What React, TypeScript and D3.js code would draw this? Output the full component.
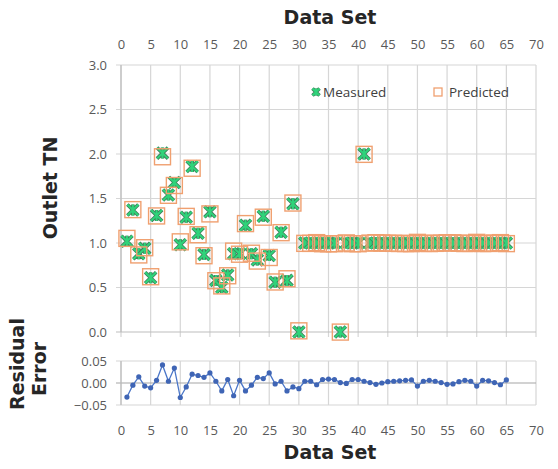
import React, { useEffect, useRef } from "react";
import * as d3 from "d3";

// data set numbers 1..65
const dataSet = d3.range(1, 66);

const measured = [
  1.02, 1.37, 0.88, 0.94, 0.61, 1.31, 2.01, 1.54, 1.68, 0.98,
  1.29, 1.86, 1.11, 0.87, 1.35, 0.58, 0.5, 0.64, 0.88, 0.88,
  1.2, 0.88, 0.81, 1.3, 0.86, 0.56, 1.12, 0.58, 1.44, 0.0,
  1.0, 1.0, 1.0, 1.0, 1.0, 1.0, 0.0, 1.0, 1.0, 1.0,
  2.0, 1.0, 1.0, 1.0, 1.0, 1.0, 1.0, 1.0, 1.0, 1.0,
  1.0, 1.0, 1.0, 1.0, 1.0, 1.0, 1.0, 1.0, 1.0, 1.0,
  1.0, 1.0, 1.0, 1.0, 1.0
];

const predicted = [
  1.052, 1.375, 0.866, 0.947, 0.621, 1.304, 1.969, 1.536, 1.646, 1.013,
  1.299, 1.84, 1.093, 0.857, 1.327, 0.576, 0.518, 0.632, 0.909, 0.874,
  1.218, 0.885, 0.797, 1.29, 0.837, 0.562, 1.116, 0.598, 1.449, 0.013,
  0.996, 0.996, 1.004, 0.992, 0.991, 0.992, -0.001, 1.001, 0.992, 0.992,
  1.996, 0.999, 1.003, 1.0, 0.997, 0.996, 0.995, 0.994, 0.993, 1.007,
  0.996, 0.994, 0.996, 0.999, 1.003, 1.002, 0.997, 0.994, 0.996, 1.007,
  0.994, 0.995, 0.999, 1.004, 0.993
];

const residual = [
  -0.032, -0.005, 0.014, -0.007, -0.011, 0.006, 0.041, 0.004, 0.034, -0.033,
  -0.009, 0.02, 0.017, 0.013, 0.023, 0.004, -0.018, 0.008, -0.029, 0.006,
  -0.018, -0.005, 0.013, 0.01, 0.023, -0.002, 0.004, -0.018, -0.009, -0.013,
  0.004, 0.004, -0.004, 0.008, 0.009, 0.008, 0.001, -0.001, 0.008, 0.008,
  0.004, 0.001, -0.003, 0.0, 0.003, 0.004, 0.005, 0.006, 0.007, -0.007,
  0.004, 0.006, 0.004, 0.001, -0.003, -0.002, 0.003, 0.006, 0.004, -0.007,
  0.006, 0.005, 0.001, -0.004, 0.007
];

const xTicks = [0, 5, 10, 15, 20, 25, 30, 35, 40, 45, 50, 55, 60, 65, 70];
const yTicks = [0, 0.5, 1, 1.5, 2, 2.5, 3];
const resTicks = [-0.05, 0, 0.05];

const tickFont = "'Open Sans', sans-serif";
const titleFont = "'DejaVu Sans', sans-serif";

function starPath(s: number) {
  return `M${-s},${-s}L${s},${s}M${-s},${s}L${s},${-s}M0,${-s}L0,${s}`;
}

function drawStar(g: any, cx: number, cy: number, s: number) {
  g.append("path")
    .attr("d", starPath(s))
    .attr("transform", `translate(${cx},${cy})`)
    .attr("stroke", "#3f7f5a")
    .attr("stroke-width", 3.6)
    .attr("fill", "none");
  g.append("path")
    .attr("d", starPath(s))
    .attr("transform", `translate(${cx},${cy})`)
    .attr("stroke", "#2fd37a")
    .attr("stroke-width", 2)
    .attr("fill", "none");
}

export default function App() {
  const ref = useRef<SVGSVGElement>(null);

  useEffect(() => {
    const svg = d3.select(ref.current);
    svg.selectAll("*").remove();

    const x = d3.scaleLinear().domain([0, 70]).range([121, 536]);
    const y = d3.scaleLinear().domain([0, 3]).range([332, 65]);
    const yr = d3.scaleLinear().domain([-0.05, 0.05]).range([405, 361]);

    // ---- top panel grid
    const grid = svg.append("g");
    xTicks.forEach((t) => {
      grid.append("line")
        .attr("x1", x(t)).attr("x2", x(t))
        .attr("y1", y(3)).attr("y2", y(0) + 5)
        .attr("stroke", "#d6d6d6").attr("stroke-width", 1.2);
    });
    yTicks.forEach((t) => {
      grid.append("line")
        .attr("x1", x(0) - 5).attr("x2", x(70))
        .attr("y1", y(t)).attr("y2", y(t))
        .attr("stroke", t === 0 ? "#bdbdbd" : "#d6d6d6").attr("stroke-width", 1.2);
    });
    grid.append("line")
      .attr("x1", x(0)).attr("x2", x(0))
      .attr("y1", y(3)).attr("y2", y(0))
      .attr("stroke", "#bdbdbd").attr("stroke-width", 1.2);

    // top x axis labels
    const topAxis = svg.append("g")
      .attr("transform", `translate(0,${y(3)})`)
      .call(d3.axisTop(x).tickValues(xTicks).tickSize(0).tickPadding(16).tickFormat(d3.format("d")));
    topAxis.select(".domain").remove();
    topAxis.selectAll("text")
      .attr("font-family", tickFont).attr("font-size", 13).attr("fill", "#595959");

    // left y axis labels
    const leftAxis = svg.append("g")
      .attr("transform", `translate(${x(0)},0)`)
      .call(d3.axisLeft(y).tickValues(yTicks).tickSize(0).tickPadding(14).tickFormat(d3.format(".1f")));
    leftAxis.select(".domain").remove();
    leftAxis.selectAll("text")
      .attr("font-family", tickFont).attr("font-size", 13).attr("fill", "#595959");

    // measured stars
    const marks = svg.append("g");
    dataSet.forEach((d, i) => {
      drawStar(marks, x(d), y(measured[i]), 5.5);
    });
    // predicted squares
    marks.selectAll("rect.pred")
      .data(dataSet)
      .enter()
      .append("rect")
      .attr("class", "pred")
      .attr("x", (d) => x(d) - 8)
      .attr("y", (d, i) => y(predicted[i]) - 8)
      .attr("width", 16)
      .attr("height", 16)
      .attr("fill", "none")
      .attr("stroke", "#f0a070")
      .attr("stroke-width", 1.4);

    // legend
    const lg = svg.append("g");
    drawStar(lg, 316, 92, 3.5);
    lg.append("text").attr("x", 323).attr("y", 97)
      .attr("font-family", tickFont).attr("font-size", 13.5).attr("fill", "#404040")
      .text("Measured");
    lg.append("rect").attr("x", 434).attr("y", 88).attr("width", 8).attr("height", 8)
      .attr("fill", "none").attr("stroke", "#f0a070").attr("stroke-width", 1.3);
    lg.append("text").attr("x", 449).attr("y", 97)
      .attr("font-family", tickFont).attr("font-size", 13.5).attr("fill", "#404040")
      .text("Predicted");

    // ---- residual panel
    const rg = svg.append("g");
    xTicks.forEach((t) => {
      rg.append("line")
        .attr("x1", x(t)).attr("x2", x(t))
        .attr("y1", yr(0.05)).attr("y2", yr(-0.05))
        .attr("stroke", "#d6d6d6").attr("stroke-width", 1.2);
    });
    resTicks.forEach((t) => {
      rg.append("line")
        .attr("x1", x(0) - 5).attr("x2", x(70))
        .attr("y1", yr(t)).attr("y2", yr(t))
        .attr("stroke", t === 0 ? "#a6a6a6" : "#d6d6d6").attr("stroke-width", 1.2);
    });
    rg.append("line")
      .attr("x1", x(0)).attr("x2", x(0))
      .attr("y1", yr(0.05)).attr("y2", yr(-0.05))
      .attr("stroke", "#bdbdbd").attr("stroke-width", 1.2);

    const resAxis = svg.append("g")
      .attr("transform", `translate(${x(0)},0)`)
      .call(d3.axisLeft(yr).tickValues(resTicks).tickSize(0).tickPadding(14).tickFormat(d3.format(".2f")));
    resAxis.select(".domain").remove();
    resAxis.selectAll("text")
      .attr("font-family", tickFont).attr("font-size", 13).attr("fill", "#595959");

    const line = d3.line<number>()
      .x((d) => x(d))
      .y((d, i) => yr(residual[i]));
    rg.append("path")
      .datum(dataSet)
      .attr("d", line)
      .attr("fill", "none")
      .attr("stroke", "#4a76c8")
      .attr("stroke-width", 1.3);
    rg.selectAll("circle")
      .data(dataSet)
      .enter()
      .append("circle")
      .attr("cx", (d) => x(d))
      .attr("cy", (d, i) => yr(residual[i]))
      .attr("r", 2.6)
      .attr("fill", "#3f65b5");

    const botAxis = svg.append("g")
      .attr("transform", `translate(0,${yr(-0.05)})`)
      .call(d3.axisBottom(x).tickValues(xTicks).tickSize(0).tickPadding(21).tickFormat(d3.format("d")));
    botAxis.select(".domain").remove();
    botAxis.selectAll("text")
      .attr("font-family", tickFont).attr("font-size", 13).attr("fill", "#595959");

    // ---- titles
    const titles = svg.append("g")
      .attr("font-family", titleFont).attr("font-weight", "bold")
      .attr("font-size", 19).attr("fill", "#262626");
    titles.append("text").attr("x", 330).attr("y", 24).attr("text-anchor", "middle").text("Data Set");
    titles.append("text").attr("x", 330).attr("y", 459).attr("text-anchor", "middle").text("Data Set");
    titles.append("text").attr("transform", "translate(57,188) rotate(-90)")
      .attr("text-anchor", "middle").text("Outlet TN");
    titles.append("text").attr("transform", "translate(24,364) rotate(-90)")
      .attr("text-anchor", "middle").text("Residual");
    titles.append("text").attr("transform", "translate(46,369) rotate(-90)")
      .attr("text-anchor", "middle").text("Error");
  }, []);

  return (
    <svg
      ref={ref}
      width={558}
      height={469}
      style={{ position: "absolute", left: 0, top: 0, background: "#fff" }}
    />
  );
}
